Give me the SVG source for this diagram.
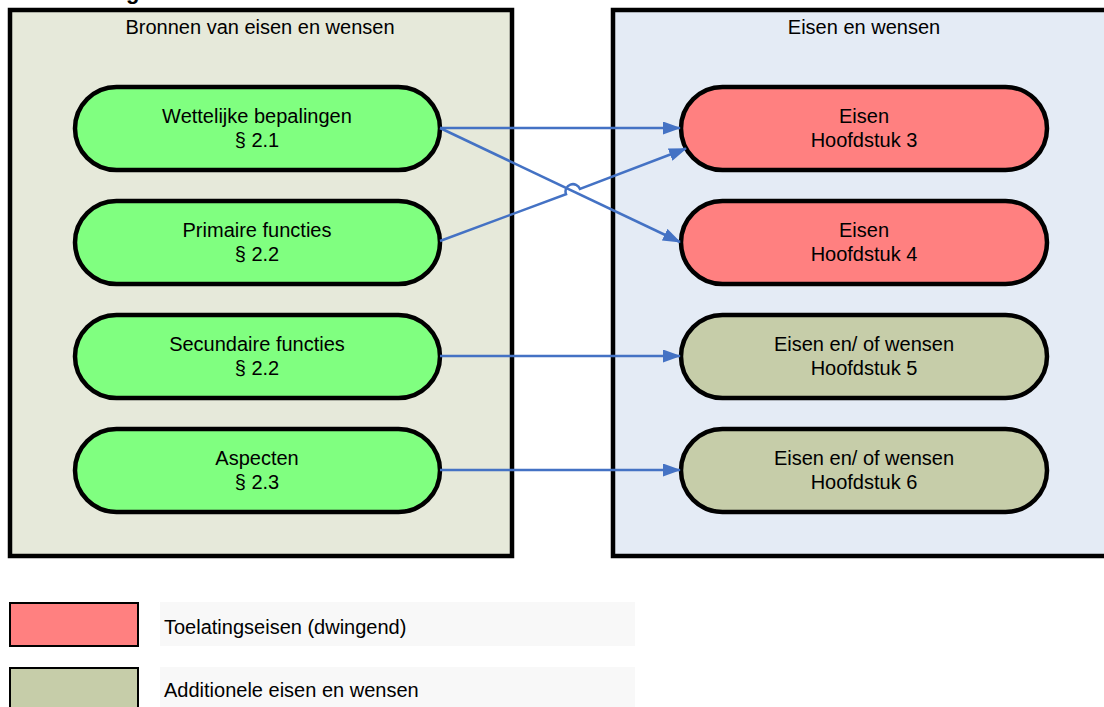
<svg xmlns="http://www.w3.org/2000/svg" width="1104" height="707" viewBox="0 0 1104 707">
<style>
text{font-family:"Liberation Sans",Arial,sans-serif;fill:#000;}
.t{font-size:20px;text-anchor:middle;}
.h{font-size:20px;text-anchor:middle;}
.lg{font-size:20px;}
.cont{stroke:#000;stroke-width:4.5;}
.pill{stroke:#000;stroke-width:4.5;}
.green{fill:#80ff80;}
.red{fill:#ff8080;}
.olive{fill:#c6cda9;}
.conn{fill:none;stroke:#4472c4;stroke-width:2.5;}
</style>
<defs>
<marker id="arr" viewBox="0 0 18 13" refX="17" refY="6.5" markerWidth="18" markerHeight="13" markerUnits="userSpaceOnUse" orient="auto">
<path d="M0,0 L18,6.5 L0,13 Z" fill="#4472c4"/>
</marker>
</defs>
<rect width="1104" height="707" fill="#fff"/>
<text x="126" y="-1" style="font-size:22px;font-weight:bold;">g</text>
<g id="container-bronnen">
<rect class="cont" x="10" y="10" width="502" height="546" fill="#e6e9da"/>
<text class="h" x="260" y="34">Bronnen van eisen en wensen</text>
</g>
<g id="container-eisen">
<rect class="cont" x="613" y="10" width="500" height="546" fill="#e4ebf5"/>
<text class="h" x="864" y="34">Eisen en wensen</text>
</g>
<g id="node-wettelijk">
<rect class="pill green" x="75" y="87" width="365" height="83" rx="41.5"/>
<text class="t" x="257" y="123">Wettelijke bepalingen</text>
<text class="t" x="257" y="147">§ 2.1</text>
</g>
<g id="node-primair">
<rect class="pill green" x="75" y="201" width="365" height="83" rx="41.5"/>
<text class="t" x="257" y="237">Primaire functies</text>
<text class="t" x="257" y="261">§ 2.2</text>
</g>
<g id="node-secundair">
<rect class="pill green" x="75" y="315" width="365" height="83" rx="41.5"/>
<text class="t" x="257" y="351">Secundaire functies</text>
<text class="t" x="257" y="375">§ 2.2</text>
</g>
<g id="node-aspecten">
<rect class="pill green" x="75" y="429" width="365" height="83" rx="41.5"/>
<text class="t" x="257" y="465">Aspecten</text>
<text class="t" x="257" y="489">§ 2.3</text>
</g>
<g id="node-h3">
<rect class="pill red" x="681" y="87" width="366" height="83" rx="41.5"/>
<text class="t" x="864" y="123">Eisen</text>
<text class="t" x="864" y="147">Hoofdstuk 3</text>
</g>
<g id="node-h4">
<rect class="pill red" x="681" y="201" width="366" height="83" rx="41.5"/>
<text class="t" x="864" y="237">Eisen</text>
<text class="t" x="864" y="261">Hoofdstuk 4</text>
</g>
<g id="node-h5">
<rect class="pill olive" x="681" y="315" width="366" height="83" rx="41.5"/>
<text class="t" x="864" y="351">Eisen en/ of wensen</text>
<text class="t" x="864" y="375">Hoofdstuk 5</text>
</g>
<g id="node-h6">
<rect class="pill olive" x="681" y="429" width="366" height="83" rx="41.5"/>
<text class="t" x="864" y="465">Eisen en/ of wensen</text>
<text class="t" x="864" y="489">Hoofdstuk 6</text>
</g>
<g id="connectors">
<path class="conn" d="M440,128 L680,128" marker-end="url(#arr)"/>
<path class="conn" d="M440,128 L680,242" marker-end="url(#arr)"/>
<path class="conn" d="M440,241 L566,194.2 A7.2,7.2 0 0 1 580,189 L686,148.5" marker-end="url(#arr)"/>
<path class="conn" d="M440,356 L680,356" marker-end="url(#arr)"/>
<path class="conn" d="M440,470 L680,470" marker-end="url(#arr)"/>
</g>
<g id="legend">
<rect x="160" y="602" width="475" height="44" fill="#f8f8f8"/>
<rect x="160" y="667" width="475" height="44" fill="#f8f8f8"/>
<rect x="10" y="603" width="128" height="43" fill="#ff8080" stroke="#000" stroke-width="2"/>
<rect x="10" y="668" width="128" height="43" fill="#c6cda9" stroke="#000" stroke-width="2"/>
<text class="lg" x="164" y="634">Toelatingseisen (dwingend)</text>
<text class="lg" x="164" y="697">Additionele eisen en wensen</text>
</g>
</svg>
